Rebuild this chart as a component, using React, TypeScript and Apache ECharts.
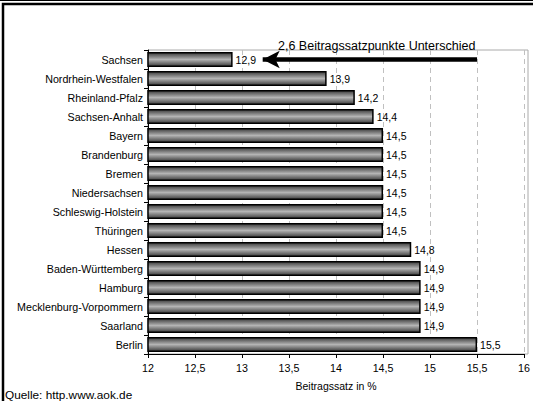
import React, { useEffect, useRef } from "react";
import * as echarts from "echarts";

const categories = [
  "Sachsen",
  "Nordrhein-Westfalen",
  "Rheinland-Pfalz",
  "Sachsen-Anhalt",
  "Bayern",
  "Brandenburg",
  "Bremen",
  "Niedersachsen",
  "Schleswig-Holstein",
  "Thüringen",
  "Hessen",
  "Baden-Württemberg",
  "Hamburg",
  "Mecklenburg-Vorpommern",
  "Saarland",
  "Berlin",
];
const values = [12.9, 13.9, 14.2, 14.4, 14.5, 14.5, 14.5, 14.5, 14.5, 14.5, 14.8, 14.9, 14.9, 14.9, 14.9, 15.5];
const arrowFrom = 15.5;
const arrowTo = 13.22;
const annotation = "2,6 Beitragssatzpunkte Unterschied";
const xAxisName = "Beitragssatz in %";
const source = "Quelle: http.www.aok.de";

const fmt = (v: number) => String(v).replace(".", ",");

export default function App() {
  const ref = useRef<HTMLDivElement>(null);
  useEffect(() => {
    if (!ref.current) return;
    const chart = echarts.init(ref.current, null, { renderer: "svg" });
    const font = "Liberation Sans";
    chart.setOption({
      animation: false,
      textStyle: { fontFamily: font },
      grid: { left: 148, right: 5, top: 50, bottom: 47, containLabel: false },
      title: {
        text: annotation,
        left: 273,
        top: 34,
        textStyle: { fontSize: 12.5, fontWeight: "normal", color: "#000", fontFamily: font },
      },
      xAxis: {
        type: "value",
        min: 12,
        max: 16,
        interval: 0.5,
        name: xAxisName,
        nameLocation: "middle",
        nameGap: 26,
        nameTextStyle: { fontSize: 10.5, color: "#000", fontFamily: font },
        axisLine: { show: true, lineStyle: { color: "#000", width: 1 } },
        axisTick: { show: true, length: 4, lineStyle: { color: "#000" } },
        axisLabel: { fontSize: 10.7, color: "#000", margin: 8, fontFamily: font, formatter: (v: number) => fmt(v) },
        splitLine: { show: true, lineStyle: { color: "#c0c0c0", type: [5, 4], width: 1 } },
      },
      yAxis: {
        type: "category",
        data: categories,
        inverse: true,
        axisLine: { show: true, lineStyle: { color: "#000", width: 1 } },
        axisTick: { show: true, length: 4, inside: false, lineStyle: { color: "#000" } },
        axisLabel: { fontSize: 10.7, color: "#000", margin: 5, fontFamily: font },
        splitLine: { show: false },
      },
      graphic: [
        {
          type: "rect",
          shape: { x: 148, y: 50, width: 380, height: 304 },
          style: { fill: "none", stroke: "#aaa", lineWidth: 1 },
          silent: true,
          z: -1,
        },
        {
          type: "line",
          shape: { x1: 0, y1: 0.5, x2: 533, y2: 0.5 },
          style: { stroke: "#000", lineWidth: 1 },
        },
        {
          type: "rect",
          shape: { x: 3, y: 4, width: 560, height: 420 },
          style: { fill: "none", stroke: "#000", lineWidth: 2.5 },
        },
        {
          type: "text",
          left: 5,
          top: 389,
          style: { text: source, fontSize: 11.8, fill: "#000", fontFamily: font },
        },
      ],
      series: [
        {
          type: "bar",
          data: values,
          barCategoryGap: "20%",
          itemStyle: {
            borderColor: "#000",
            borderWidth: 1.5,
            color: new echarts.graphic.LinearGradient(0, 0, 0, 1, [
              { offset: 0, color: "#3a3a3a" },
              { offset: 0.5, color: "#b4b4b4" },
              { offset: 1, color: "#3a3a3a" },
            ]),
          },
          label: {
            show: true,
            position: "right",
            distance: 3,
            fontSize: 10.5,
            color: "#000",
            fontFamily: font,
            formatter: (p: any) => fmt(p.value),
          },
          markLine: {
            silent: true,
            symbol: ["none", "arrow"],
            symbolSize: [13, 17],
            label: { show: false },
            lineStyle: { color: "#000", width: 4.5, type: "solid" },
            data: [
              [
                { coord: [arrowFrom, categories[0]] },
                { coord: [arrowTo, categories[0]] },
              ],
            ],
          },
        },
      ],
    });
    return () => chart.dispose();
  }, []);
  return <div ref={ref} style={{ width: 533, height: 401, position: "absolute", left: 0, top: 0 }} />;
}
